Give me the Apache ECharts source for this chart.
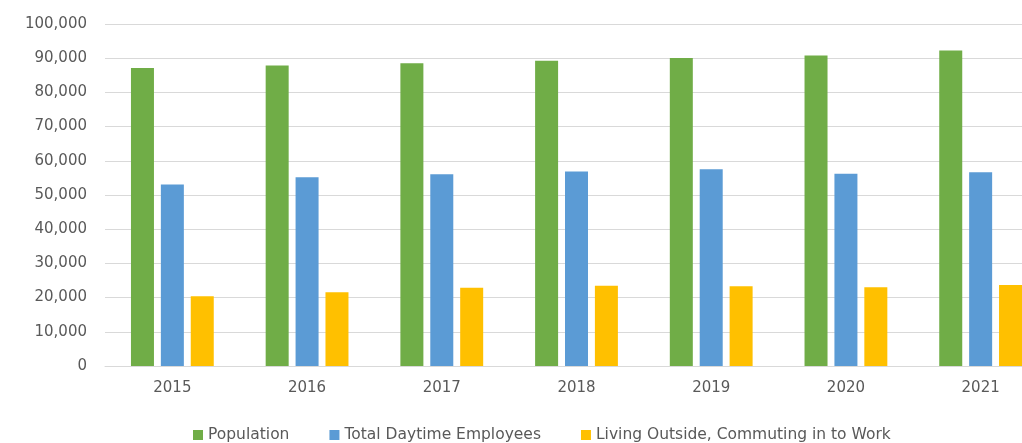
<!DOCTYPE html>
<html>
<head>
<meta charset="utf-8">
<script src="https://cdn.jsdelivr.net/npm/echarts@6/dist/echarts.min.js"></script>
<style>
  html, body { margin: 0; padding: 0; background: #fff; }
  #chart { width: 1022px; height: 443px; }
</style>
</head>
<body>
<div id="chart"></div>
<script>
// Yearly figures
const years = ['2015', '2016', '2017', '2018', '2019', '2020', '2021'];
const population = [87100, 87900, 88550, 89250, 90050, 90800, 92250];
const daytimeEmployees = [53100, 55200, 56050, 56900, 57500, 56250, 56650];
const commutingIn = [20400, 21600, 22850, 23500, 23350, 23050, 23700];

const textColor = '#595959';
const font = 'DejaVu Sans';

const chart = echarts.init(document.getElementById('chart'), null, { renderer: 'canvas' });

chart.setOption({
  animation: false,
  backgroundColor: '#ffffff',
  // plot area runs past the right edge of the canvas
  grid: {
    left: 105, right: -26, top: 24, bottom: 77,
    containLabel: false, outerBoundsMode: 'none'
  },
  legend: {
    left: 193,
    top: 427,
    padding: 0,
    itemWidth: 10,
    itemHeight: 10,
    itemGap: 40,
    itemTextGap: 4,
    icon: 'rect',
    textStyle: { color: textColor, fontFamily: font, fontSize: 15.5 },
    data: ['Population', 'Total Daytime Employees', 'Living Outside, Commuting in to Work']
  },
  xAxis: {
    type: 'category',
    data: years,
    axisLine: { lineStyle: { color: '#d9d9d9', width: 1 } },
    axisTick: { show: false },
    axisLabel: { color: textColor, fontFamily: font, fontSize: 15, margin: 15 }
  },
  yAxis: {
    type: 'value',
    min: 0,
    max: 100000,
    interval: 10000,
    axisLine: { show: false },
    axisTick: { show: false },
    splitLine: { lineStyle: { color: '#d9d9d9', width: 1 } },
    axisLabel: {
      color: textColor, fontFamily: font, fontSize: 15, margin: 18,
      formatter: v => v.toLocaleString('en-US')
    }
  },
  series: [
    {
      name: 'Population', type: 'bar', data: population,
      itemStyle: { color: '#70AD47' },
      barWidth: 23, barGap: '30%'
    },
    {
      name: 'Total Daytime Employees', type: 'bar', data: daytimeEmployees,
      itemStyle: { color: '#5B9BD5' },
      barWidth: 23, barGap: '30%'
    },
    {
      name: 'Living Outside, Commuting in to Work', type: 'bar', data: commutingIn,
      itemStyle: { color: '#FFC000' },
      barWidth: 23, barGap: '30%'
    }
  ]
});
</script>
</body>
</html>
